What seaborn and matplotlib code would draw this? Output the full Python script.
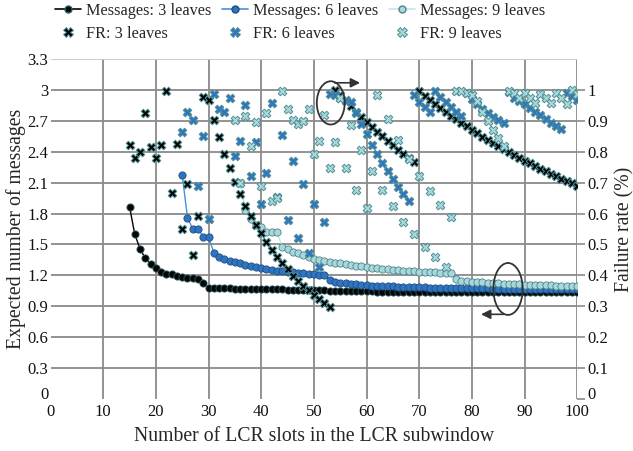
import numpy as np
import pandas as pd
import matplotlib
matplotlib.use("Agg")
import matplotlib.pyplot as plt
import matplotlib.transforms as mtransforms
import seaborn as sns
from matplotlib.patches import Ellipse
from matplotlib.lines import Line2D

# ---------------- data ----------------
slots_m3 = list(range(15, 101))
msg_3 = [1.867, 1.599, 1.456, 1.366, 1.314, 1.272, 1.236, 1.217, 1.214, 1.194,
         1.180, 1.175, 1.175, 1.165, 1.123, 1.081, 1.076, 1.075, 1.074, 1.073,
         1.072, 1.071, 1.070, 1.069, 1.068, 1.067, 1.066, 1.065, 1.064, 1.063,
         1.062, 1.061, 1.060, 1.059, 1.058, 1.057, 1.056, 1.055, 1.048, 1.047,
         1.047, 1.046, 1.046, 1.045, 1.045, 1.044, 1.044, 1.043, 1.043, 1.042,
         1.042, 1.042, 1.041, 1.041, 1.041, 1.040, 1.040, 1.040, 1.039, 1.039,
         1.039, 1.039, 1.038, 1.038, 1.038, 1.038, 1.038, 1.037, 1.037, 1.037,
         1.037, 1.037, 1.036, 1.036, 1.036, 1.036, 1.036, 1.036, 1.035, 1.035,
         1.035, 1.035, 1.035, 1.035, 1.035, 1.035]

slots_m6 = list(range(25, 101))
msg_6 = [2.175, 1.760, 1.650, 1.650, 1.576, 1.576, 1.420, 1.382, 1.356, 1.340,
         1.330, 1.320, 1.300, 1.291, 1.279, 1.269, 1.259, 1.250, 1.246, 1.240,
         1.236, 1.230, 1.226, 1.220, 1.218, 1.214, 1.207, 1.200, 1.155, 1.139,
         1.130, 1.123, 1.117, 1.112, 1.108, 1.104, 1.101, 1.098, 1.096, 1.094,
         1.092, 1.090, 1.088, 1.087, 1.085, 1.084, 1.083, 1.082, 1.081, 1.080,
         1.079, 1.078, 1.077, 1.077, 1.076, 1.075, 1.074, 1.074, 1.073, 1.072,
         1.072, 1.071, 1.070, 1.070, 1.069, 1.069, 1.068, 1.068, 1.067, 1.067,
         1.066, 1.066, 1.066, 1.065, 1.065, 1.065]

slots_m9 = list(range(36, 101))
msg_9 = [2.100, 1.835, 1.748, 1.690, 1.673, 1.618, 1.618, 1.618, 1.478, 1.453,
         1.430, 1.414, 1.398, 1.382, 1.360, 1.350, 1.337, 1.330, 1.323, 1.317,
         1.307, 1.300, 1.294, 1.288, 1.282, 1.275, 1.269, 1.262, 1.259, 1.252,
         1.249, 1.246, 1.243, 1.240, 1.236, 1.233, 1.230, 1.228, 1.226, 1.224,
         1.222, 1.160, 1.150, 1.145, 1.140, 1.136, 1.132, 1.128, 1.125, 1.122,
         1.119, 1.117, 1.115, 1.113, 1.111, 1.109, 1.107, 1.105, 1.104, 1.102,
         1.101, 1.099, 1.098, 1.097, 1.095]

slots_f3 = list(range(15, 101))
fr_3 = [0.822, 0.781, 0.800, 0.924, 0.815, 0.781, 0.821, 0.997, 0.667, 0.825,
        0.551, 0.695, 0.465, 0.592, 0.978, 0.968, 0.904, 0.847, 0.794, 0.747,
        0.703, 0.663, 0.626, 0.592, 0.563, 0.536, 0.507, 0.482, 0.459, 0.439,
        0.420, 0.398, 0.383, 0.367, 0.353, 0.336, 0.323, 0.310, 0.299, 1.000,
        0.982, 0.964, 0.947, 0.930, 0.913, 0.897, 0.881, 0.865, 0.850, 0.836,
        0.822, 0.806, 0.792, 0.779, 0.768, 0.995, 0.981, 0.968, 0.955, 0.942,
        0.929, 0.917, 0.905, 0.893, 0.882, 0.870, 0.859, 0.848, 0.838, 0.828,
        0.818, 0.808, 0.798, 0.789, 0.780, 0.771, 0.762, 0.753, 0.745, 0.737,
        0.729, 0.721, 0.713, 0.706, 0.698, 0.690]

slots_f6 = list(range(25, 101))
fr_6 = [0.865, 0.930, 0.902, 0.689, 0.851, 0.582, 0.986, 0.937, 0.930, 0.973,
        0.786, 0.835, 0.950, 0.722, 0.832, 0.631, 0.732, 0.957, 0.653, 0.855,
        0.579, 0.770, 0.520, 0.695, 0.471, 0.631, 0.426, 0.574, 0.987, 0.984,
        0.975, 0.968, 0.962, 0.925, 0.889, 0.857, 0.822, 0.793, 0.763, 0.739,
        0.711, 0.685, 0.663, 0.640, 0.984, 0.962, 0.946, 0.930, 0.995, 0.978,
        0.962, 0.946, 0.930, 0.916, 0.990, 0.970, 0.955, 0.938, 0.925, 0.912,
        0.903, 0.894, 0.992, 0.975, 0.965, 0.953, 0.940, 0.930, 0.918, 0.907,
        0.894, 0.884, 0.872, 0.989, 0.980, 0.968]

slots_f9 = list(range(35, 101))
fr_9 = [0.902, 0.700, 0.915, 0.819, 0.896, 0.689, 0.925, 0.642, 0.650, 0.998,
        0.937, 0.903, 0.890, 0.900, 0.938, 0.793, 0.836, 0.919, 0.747, 0.830,
        0.975, 0.747, 0.885, 0.676, 0.807, 0.618, 0.738, 0.984, 0.677, 0.906,
        0.626, 0.838, 0.574, 0.778, 0.534, 0.723, 0.493, 0.673, 0.459, 0.628,
        0.426, 0.588, 0.995, 0.998, 0.990, 0.984, 0.965, 0.930, 0.898, 0.871,
        0.845, 0.820, 0.995, 0.990, 0.973, 0.991, 0.975, 0.958, 0.986, 0.974,
        0.957, 0.989, 0.974, 0.955, 1.000, 0.986]

x_ticks = list(range(0, 101, 10))
y_left_ticks = [0, 0.3, 0.6, 0.9, 1.2, 1.5, 1.8, 2.1, 2.4, 2.7, 3.0, 3.3]
y_left_labels = ["0", "0.3", "0.6", "0.9", "1.2", "1.5", "1.8", "2.1", "2.4", "2.7", "3", "3.3"]
y_right_ticks = [0, 0.1, 0.2, 0.3, 0.4, 0.5, 0.6, 0.7, 0.8, 0.9, 1.0]
y_right_labels = ["0", "0.1", "0.2", "0.3", "0.4", "0.5", "0.6", "0.7", "0.8", "0.9", "1"]

# ---------------- style ----------------
sns.set_theme(style="white")
plt.rcParams['font.family'] = ['Liberation Serif', 'DejaVu Serif']

C_BLACK = "#050505"
C_BLUE = "#2f74c2"
C_BLUE_LINE = "#4a8fdc"
C_CYAN = "#a9d8dc"
C_CYAN_LINE = "#c4e7ea"
EDGE = "#2e5e64"
XEDGE = "#4f8f95"
GRID = "#8a8a8a"

fig = plt.figure(figsize=(6.33, 4.51), dpi=100)
ax = fig.add_axes([50.5 / 633, 52 / 451, 526.8 / 633, 340 / 451])
ax2 = ax.twinx()

msg_series = [
    (slots_m3, msg_3, C_BLACK, C_BLACK, EDGE),
    (slots_m6, msg_6, C_BLUE_LINE, C_BLUE, "#1f4f80"),
    (slots_m9, msg_9, C_CYAN_LINE, C_CYAN, "#4c8389"),
]
for xs, ys, lc, fc, ec in msg_series:
    sns.lineplot(x=xs, y=ys, ax=ax, color=lc, lw=1.0, marker="o",
                 markersize=5.2, markerfacecolor=fc, markeredgecolor=ec,
                 markeredgewidth=0.6, legend=False, zorder=3)

fr_series = [
    (slots_f3, fr_3, C_BLACK),
    (slots_f6, fr_6, C_BLUE),
    (slots_f9, fr_9, C_CYAN),
]
for xs, ys, fc in fr_series:
    sns.scatterplot(x=xs, y=ys, ax=ax2, marker="X", s=38, color=fc,
                    edgecolor=XEDGE, linewidth=0.7, legend=False, zorder=4)

# axes setup
ax.set_xlim(0, 100)
ax.set_ylim(0, 3.3)
ax2.set_ylim(0, 1.1)
ax.set_xticks(x_ticks)
ax.set_xticklabels([str(t) for t in x_ticks])
ax.set_yticks(y_left_ticks)
ax.set_yticklabels(y_left_labels)
ax2.set_yticks(y_right_ticks)
ax2.set_yticklabels(y_right_labels)

ax.grid(True, color=GRID, lw=1.3)
ax2.grid(False)
# no grid line along x = 0 or y = 0; lighter top line
ax.xaxis.get_gridlines()[0].set_visible(False)
ax.yaxis.get_gridlines()[0].set_visible(False)
ax.yaxis.get_gridlines()[-1].set_color("#c8c8c8")
for a in (ax, ax2):
    for s in a.spines.values():
        s.set_visible(False)
ax.tick_params(axis="y", length=0, labelsize=12, colors="#111111", pad=1.5)
ax.tick_params(axis="x", length=0, labelsize=12, colors="#111111", pad=3.5)
ax2.tick_params(axis="y", length=6, width=1.2, color=GRID, labelsize=12,
                labelcolor="#111111", pad=1)
ax.set_axisbelow(True)

ax.set_xlabel("Number of LCR slots in the LCR subwindow", fontsize=14.2, labelpad=5)
ax.set_ylabel("Expected number of messages", fontsize=14.2, labelpad=1)
ax2.set_ylabel("Failure rate (%)", fontsize=14.2, labelpad=5)

# raise the "0" labels of both y axes slightly (as in the reference)
lift = mtransforms.ScaledTranslation(0, 4.5 / 72, fig.dpi_scale_trans)
for lbl in (ax.get_yticklabels()[0], ax2.get_yticklabels()[0]):
    lbl.set_transform(lbl.get_transform() + lift)

# annotations (ellipses + arrows)
ax2.add_patch(Ellipse((53.2, 0.958), 5.3, 0.14, fill=False, ec="#333333", lw=1.3, zorder=6))
ax2.annotate("", xy=(59.3, 1.023), xytext=(53.4, 1.023),
             arrowprops=dict(arrowstyle="-|>", color="#333333", lw=1.2,
                             mutation_scale=14), zorder=6)
ax2.add_patch(Ellipse((86.85, 0.356), 5.57, 0.168, fill=False, ec="#333333", lw=1.3, zorder=6))
ax2.annotate("", xy=(81.2, 0.274), xytext=(86.6, 0.274),
             arrowprops=dict(arrowstyle="-|>", color="#333333", lw=1.2,
                             mutation_scale=14), zorder=6)

# legend
handles = [
    Line2D([], [], color=C_BLACK, lw=1.2, marker="o", markersize=5,
           markerfacecolor=C_BLACK, markeredgecolor=EDGE),
    Line2D([], [], color="none", marker="X", markersize=6.5,
           markerfacecolor=C_BLACK, markeredgecolor=XEDGE, markeredgewidth=0.7),
    Line2D([], [], color=C_BLUE_LINE, lw=1.2, marker="o", markersize=5,
           markerfacecolor=C_BLUE, markeredgecolor="#1f4f80"),
    Line2D([], [], color="none", marker="X", markersize=6.5,
           markerfacecolor=C_BLUE, markeredgecolor=XEDGE, markeredgewidth=0.7),
    Line2D([], [], color=C_CYAN_LINE, lw=1.2, marker="o", markersize=5,
           markerfacecolor=C_CYAN, markeredgecolor="#4c8389"),
    Line2D([], [], color="none", marker="X", markersize=6.5,
           markerfacecolor=C_CYAN, markeredgecolor=XEDGE, markeredgewidth=0.7),
]
labels = ["Messages: 3 leaves", "FR: 3 leaves", "Messages: 6 leaves",
          "FR: 6 leaves", "Messages: 9 leaves", "FR: 9 leaves"]
fig.legend(handles, labels, ncol=3, loc="upper left", bbox_to_anchor=(55 / 633, 0.993),
           frameon=False, fontsize=11.7, handlelength=1.6, handletextpad=0.33,
           columnspacing=0.62, labelspacing=0.42, borderaxespad=0.0,
           borderpad=0.0)

fig.savefig("out.png", dpi=100)
